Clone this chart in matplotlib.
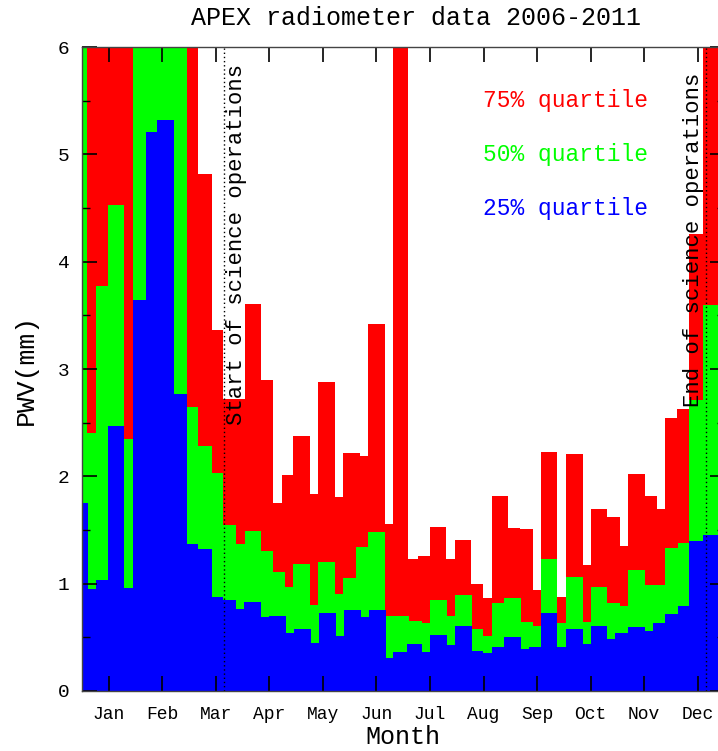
import matplotlib
matplotlib.use("Agg")
import matplotlib.pyplot as plt
from matplotlib.ticker import MultipleLocator, FixedLocator

# Day-of-year bin edges and quartile PWV values (mm)
q75_edges = [0, 66.1, 73.6, 80.3, 92.6, 101.6, 108.4, 113.5, 120.1, 129.6, 134.3,
             143.8, 148.5, 157.9, 162.7, 172.2, 176.9, 185.4, 191.1, 197.7, 206.8,
             211.9, 221.0, 227.7, 232.8, 242.2, 248.8, 256.1, 260.6, 270.0, 274.7,
             284.5, 289.2, 298.3, 305.4, 310.2, 319.6, 326.4, 331.4, 338.2, 344.7,
             352.6, 365]
q75_pwv = [7, 4.82, 3.36, 2.72, 3.61, 2.90, 1.75, 2.01, 2.38, 1.84, 2.88,
           1.81, 2.22, 2.19, 3.42, 1.56, 7, 1.23, 1.26, 1.53, 1.23,
           1.41, 1.00, 0.87, 1.82, 1.52, 1.51, 0.94, 2.23, 0.88, 2.21,
           1.17, 1.70, 1.62, 1.35, 2.02, 1.82, 1.70, 2.54, 2.63, 4.26, 7]

q50_edges = [0, 3.07, 7.84, 15.0, 24.1, 28.9, 59.5, 66.1, 73.7, 80.3, 87.4,
             92.6, 101.6, 108.4, 115.4, 120.1, 129.6, 134.3, 143.8, 148.5, 155.7,
             162.7, 172.2, 185.8, 193.0, 197.7, 207.2, 211.9, 221.4, 228.0, 232.8,
             239.8, 249.2, 256.4, 260.6, 270.0, 274.7, 284.5, 289.3, 298.3, 305.5,
             310.2, 319.7, 331.4, 338.6, 344.7, 352.6, 365]
q50_pwv = [7, 2.40, 3.77, 4.53, 2.35, 7, 2.65, 2.28, 2.03, 1.55,
           1.37, 1.49, 1.30, 1.11, 0.97, 1.18, 0.80, 1.20, 0.90, 1.05,
           1.34, 1.48, 0.70, 0.65, 0.63, 0.85, 0.70, 0.89, 0.58, 0.51,
           0.82, 0.87, 0.64, 0.61, 1.23, 0.63, 1.06, 0.64, 0.97, 0.82,
           0.79, 1.13, 0.99, 1.33, 1.38, 2.71, 3.60]

q25_edges = [0, 3.29, 7.84, 15.0, 24.1, 28.9, 36.4, 42.8, 52.5, 59.5, 66.1,
             73.7, 80.3, 87.5, 92.2, 101.7, 106.4, 116.0, 120.6, 130.1, 134.8,
             144.3, 149.0, 158.5, 163.2, 172.7, 176.7, 184.7, 193.0, 197.7, 207.2,
             211.9, 221.4, 228.0, 232.8, 239.8, 249.2, 254.0, 260.6, 270.0, 274.7,
             284.5, 289.3, 298.3, 303.0, 310.2, 319.7, 324.4, 331.4, 338.6, 344.7,
             352.6, 365]
q25_pwv = [1.755, 0.95, 1.03, 2.47, 0.96, 3.64, 5.21, 5.32, 2.77, 1.37,
           1.32, 0.88, 0.85, 0.76, 0.83, 0.69, 0.70, 0.54, 0.58, 0.45,
           0.73, 0.51, 0.75, 0.69, 0.75, 0.31, 0.36, 0.44, 0.36, 0.52,
           0.43, 0.61, 0.37, 0.35, 0.41, 0.50, 0.39, 0.41, 0.73, 0.41,
           0.58, 0.44, 0.61, 0.48, 0.54, 0.60, 0.56, 0.63, 0.72, 0.79,
           1.40, 1.45]

months = ["Jan", "Feb", "Mar", "Apr", "May", "Jun",
          "Jul", "Aug", "Sep", "Oct", "Nov", "Dec"]
start_ops_day = 80.5
end_ops_day = 354.7

FONT = "Liberation Mono"

fig = plt.figure(figsize=(7.18, 7.51), dpi=100)
ax = fig.add_axes([0.1141, 0.0799, 0.895, 0.8575])

ax.stairs(q75_pwv, q75_edges, fill=True, color="#ff0000", baseline=0, lw=0)
ax.stairs(q50_pwv, q50_edges, fill=True, color="#00ff00", baseline=0, lw=0)
ax.stairs(q25_pwv, q25_edges, fill=True, color="#0000ff", baseline=0, lw=0)

ax.axvline(start_ops_day, color="black", ls=(0, (1, 2)), lw=1.0)
ax.axvline(end_ops_day, color="black", ls=(0, (1, 2)), lw=1.0)

ax.text(87.6, 2.48, "Start of science operations", rotation=90, ha="center",
        va="bottom", fontsize=16, family=FONT)
ax.text(347.6, 2.65, "End of science operations", rotation=90, ha="center",
        va="bottom", fontsize=16, family=FONT)

ax.text(227.8, 5.5, "75% quartile", color="#ff0000", fontsize=16.5,
        family=FONT, va="center", ha="left")
ax.text(227.8, 5.0, "50% quartile", color="#00ff00", fontsize=16.5,
        family=FONT, va="center", ha="left")
ax.text(227.8, 4.5, "25% quartile", color="#0000ff", fontsize=16.5,
        family=FONT, va="center", ha="left")

ax.set_xlim(0, 365)
ax.set_ylim(0, 6)
month_len = 365 / 12.0
ax.xaxis.set_major_locator(FixedLocator([(i + 0.5) * month_len for i in range(12)]))
ax.set_xticklabels(months, family=FONT, fontsize=13)
ax.yaxis.set_major_locator(MultipleLocator(1))
ax.yaxis.set_minor_locator(MultipleLocator(0.5))
for lbl in ax.get_yticklabels():
    lbl.set_family(FONT)
    lbl.set_fontsize(14)
ax.tick_params(axis="both", which="major", direction="in", length=11,
               width=1.2, top=True, right=True, pad=9)
ax.tick_params(axis="y", which="minor", direction="in", length=5.5,
               width=1.0, right=True)
ax.tick_params(axis="x", pad=11)
for sp in ax.spines.values():
    sp.set_color("#444444")
    sp.set_linewidth(1.0)

ax.set_xlabel("Month", family=FONT, fontsize=18, labelpad=1)
ax.set_ylabel("PWV(mm)", family=FONT, fontsize=19, labelpad=14)
fig.text(416 / 718, 1 - 18 / 751, "APEX radiometer data 2006-2011",
         family=FONT, fontsize=18, ha="center", va="center")

fig.savefig("out.png", dpi=100)
